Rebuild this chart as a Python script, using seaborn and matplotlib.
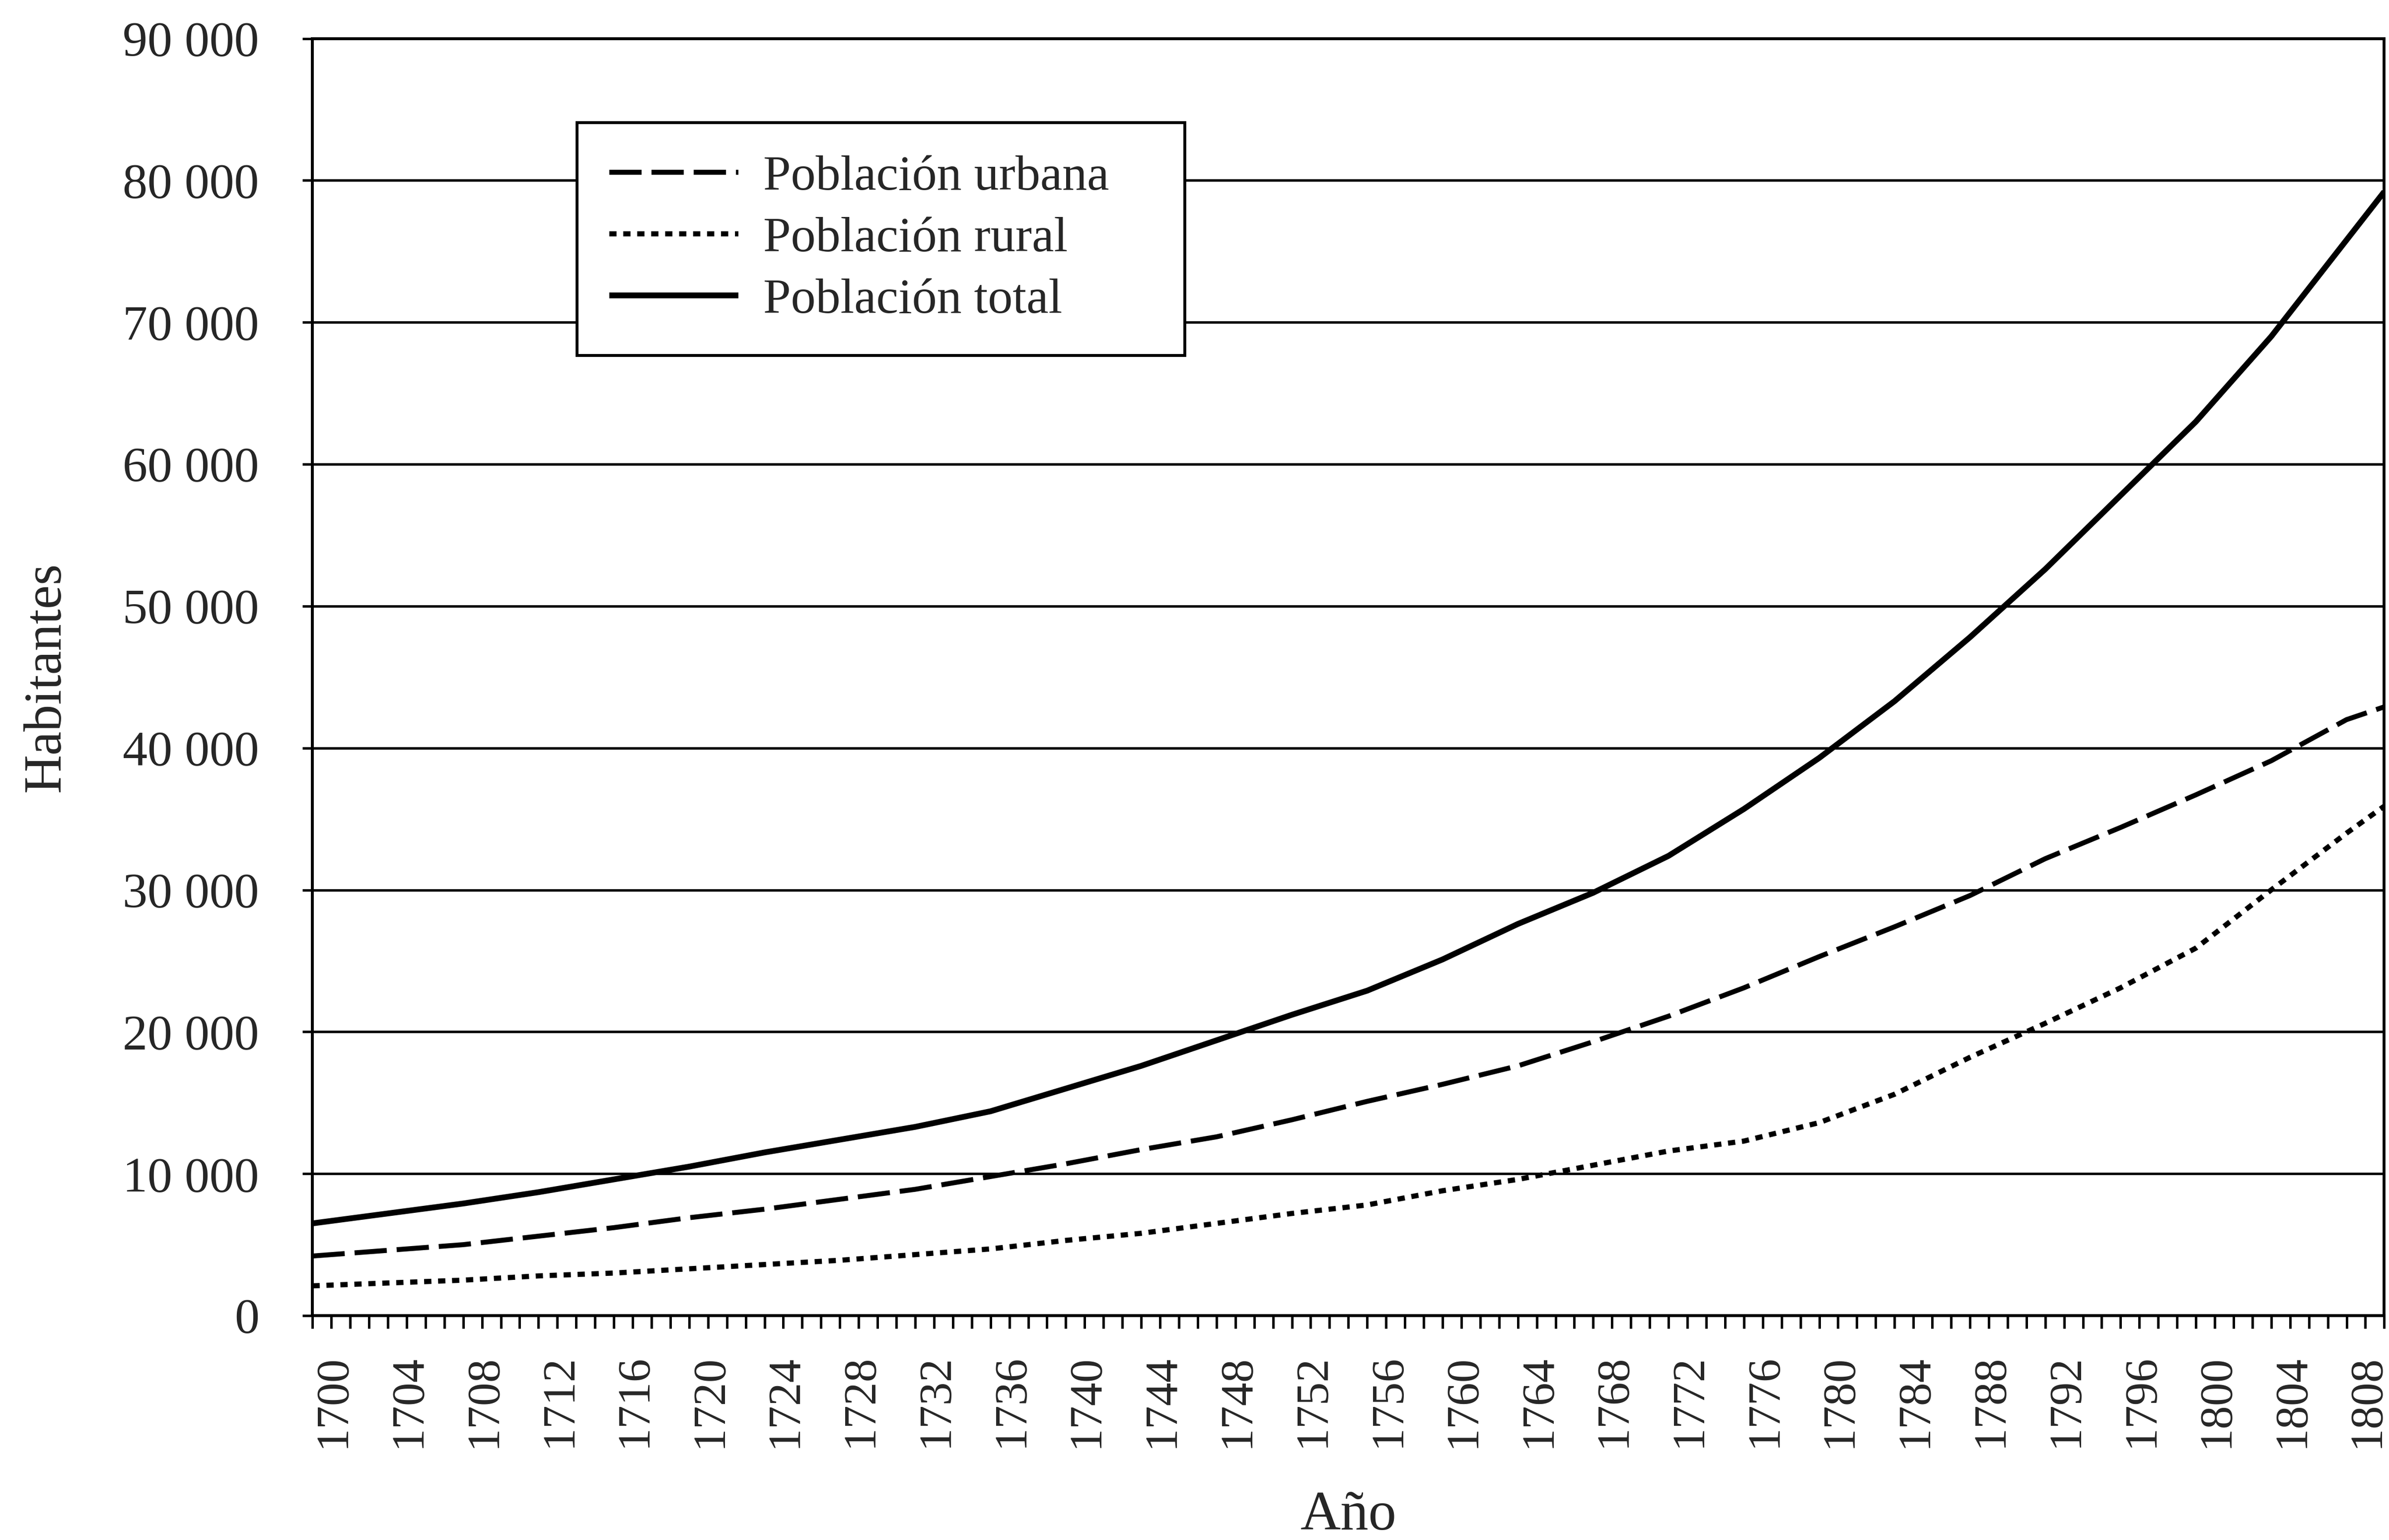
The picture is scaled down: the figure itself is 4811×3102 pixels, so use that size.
import matplotlib
matplotlib.use("Agg")
import matplotlib.pyplot as plt
import numpy as np
import seaborn as sns

# ─── Datos (cada 4 años + 1810) ──────────────────────────────────────────────
years = [1700, 1704, 1708, 1712, 1716, 1720, 1724, 1728, 1732, 1736,
         1740, 1744, 1748, 1752, 1756, 1760, 1764, 1768, 1772, 1776,
         1780, 1784, 1788, 1792, 1796, 1800, 1804, 1808, 1810]

urbana = [4200, 4600, 5000, 5600, 6200, 6900, 7500, 8200, 8900, 9800,
          10700, 11700, 12600, 13800, 15100, 16300, 17600, 19300, 21100, 23100,
          25300, 27400, 29600, 32200, 34400, 36700, 39100, 42000, 42900]

rural = [2100, 2300, 2500, 2800, 3000, 3300, 3600, 3900, 4300, 4700,
         5300, 5800, 6500, 7200, 7800, 8800, 9600, 10600, 11600, 12300,
         13600, 15600, 18200, 20600, 23100, 25900, 30000, 34000, 35900]

total = [6500, 7200, 7900, 8700, 9600, 10500, 11500, 12400, 13300, 14400,
         16000, 17600, 19400, 21200, 22900, 25100, 27600, 29800, 32400, 35700,
         39300, 43300, 47800, 52600, 57800, 63000, 69000, 75800, 79200]

series = [
    ("Población urbana", urbana, (0, (6.5, 2.0)), 2.4),
    ("Población rural", rural, (0, (1.4, 1.3)), 2.5),
    ("Población total", total, "-", 2.8),
]

# ─── Estilo ──────────────────────────────────────────────────────────────────
sns.set_theme(style="white")
plt.rcParams["font.family"] = ["Liberation Serif", "DejaVu Serif"]
plt.rcParams["axes.edgecolor"] = "black"
plt.rcParams["axes.linewidth"] = 1.4

DPI = 300
fig = plt.figure(figsize=(4811 / DPI, 3102 / DPI), dpi=DPI)
ax = fig.add_axes([0.1308, 0.1457, 0.998 - 0.1308, 0.975 - 0.1457])

for name, vals, ls, lw in series:
    sns.lineplot(x=years, y=vals, ax=ax, color="black", linewidth=lw,
                 linestyle=ls, label=name, solid_capstyle="butt",
                 dash_capstyle="butt", solid_joinstyle="round")

# ─── Ejes ────────────────────────────────────────────────────────────────────
ax.set_xlim(1700, 1810)
ax.set_ylim(0, 90000)

yticks = np.arange(0, 90001, 10000)
ax.set_yticks(yticks)
ax.set_yticklabels([f"{v:,}".replace(",", " ") for v in yticks], fontsize=24)
ax.yaxis.grid(True, color="black", linewidth=1.2)
ax.xaxis.grid(False)

xt = list(range(1700, 1811))
ax.set_xticks(xt)
ax.set_xticklabels([str(y) if (y - 1700) % 4 == 0 else "" for y in xt],
                   rotation=90, fontsize=22.5, ha="left")

ax.tick_params(axis="x", which="major", direction="out", length=6.2,
               width=1.2, color="black", bottom=True, pad=12.5)
ax.tick_params(axis="y", which="major", direction="out", length=4.8,
               width=1.2, color="black", left=True, pad=21)

for sp in ax.spines.values():
    sp.set_visible(True)
    sp.set_color("black")
    sp.set_linewidth(1.4)

ax.set_xlabel("Año", fontsize=27, labelpad=21)
ax.set_ylabel("Habitantes", fontsize=26)
ax.yaxis.set_label_coords(-0.1167, 0.5)

# ─── Leyenda ─────────────────────────────────────────────────────────────────
leg = ax.legend(loc="upper left", bbox_to_anchor=(0.1276, 0.7516, 0.2934, 0.1824),
                mode="expand", borderaxespad=0, fontsize=24, frameon=True,
                fancybox=False, handlelength=2.6, handletextpad=0.5,
                borderpad=0.65, labelspacing=0.33)
leg.get_frame().set_edgecolor("black")
leg.get_frame().set_linewidth(1.4)
leg.get_frame().set_alpha(1)

fig.savefig("out.png", dpi=DPI, facecolor="white")
